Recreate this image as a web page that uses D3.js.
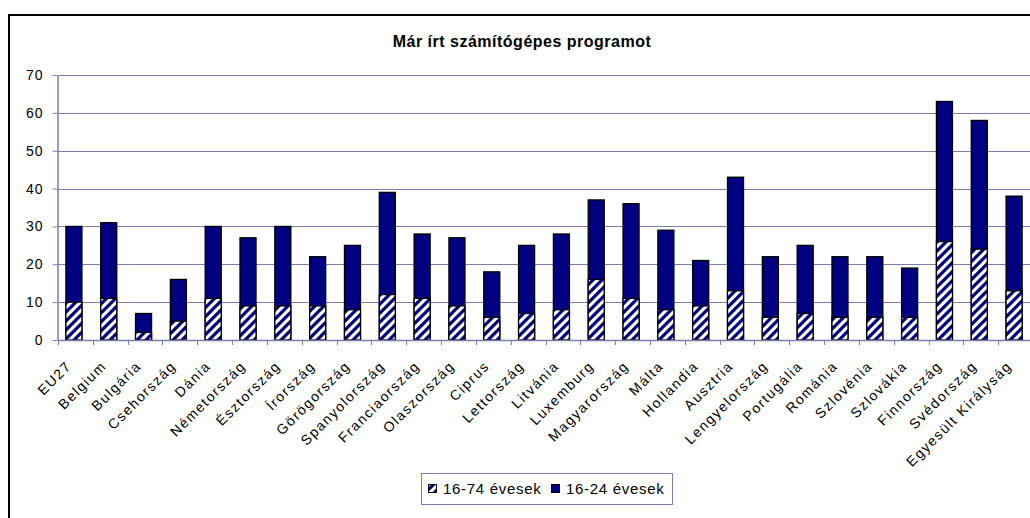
<!DOCTYPE html>
<html>
<head>
<meta charset="utf-8">
<script src="https://cdn.jsdelivr.net/npm/d3@7"></script>
<style>
  html, body { margin: 0; padding: 0; background: #fff; overflow: hidden; }
  text { font-family: Arial, "Liberation Sans", sans-serif; fill: #000; }
</style>
</head>
<body>
<div id="chart"></div>
<script>
const categories = ["EU27", "Belgium", "Bulgária", "Csehország", "Dánia", "Németország", "Észtország",
  "Írország", "Görögország", "Spanyolország", "Franciaország", "Olaszország", "Ciprus", "Lettország",
  "Litvánia", "Luxemburg", "Magyarország", "Málta", "Hollandia", "Ausztria", "Lengyelország",
  "Portugália", "Románia", "Szlovénia", "Szlovákia", "Finnország", "Svédország", "Egyesült Királyság"];
const age16to74 = [10, 11, 2, 5, 11, 9, 9, 9, 8, 12, 11, 9, 6, 7, 8, 16, 11, 8, 9, 13, 6, 7, 6, 6, 6, 26, 24, 13];
const age16to24 = [30, 31, 7, 16, 30, 27, 30, 22, 25, 39, 28, 27, 18, 25, 28, 37, 36, 29, 21, 43, 22, 25, 22, 22, 19, 63, 58, 38];
const yTicks = [0, 10, 20, 30, 40, 50, 60, 70];
const seriesNames = ["16-74 évesek", "16-24 évesek"];
const title = "Már írt számítógépes programot";

const W = 1030, H = 518;
const plotLeft = 58, plotRight = 1033, plotTop = 75, plotBottom = 340;
const navy = "#000080";
const gridColor = "#7c7cae";

const svg = d3.select("#chart").append("svg")
  .attr("width", W)
  .attr("height", H);

// diagonal hatch
const defs = svg.append("defs");
const pat = defs.append("pattern")
  .attr("id", "hatch")
  .attr("patternUnits", "userSpaceOnUse")
  .attr("width", 9)
  .attr("height", 9);
pat.append("rect").attr("width", 9).attr("height", 9).attr("fill", "#fff");
pat.append("path")
  .attr("d", "M-2,2 L2,-2 M0,9 L9,0 M7,11 L11,7")
  .attr("stroke", navy)
  .attr("stroke-width", 3.2);

// outer frame (cut off on right/bottom)
svg.append("rect")
  .attr("x", 9).attr("y", 15)
  .attr("width", 1100).attr("height", 600)
  .attr("fill", "none")
  .attr("stroke", "#000")
  .attr("stroke-width", 2);

svg.append("text")
  .attr("x", 522).attr("y", 47)
  .attr("text-anchor", "middle")
  .style("font-size", "16px")
  .style("font-weight", "bold")
  .style("letter-spacing", "0.5px")
  .text(title);

const x = d3.scaleBand().domain(categories).range([plotLeft, plotRight]).padding(0);
const y = d3.scaleLinear().domain([0, 70]).range([plotBottom, plotTop]);

// gridlines
svg.append("g").selectAll("line")
  .data(yTicks.filter(d => d > 0))
  .enter().append("line")
    .attr("x1", plotLeft).attr("x2", W)
    .attr("y1", d => Math.round(y(d)) + 0.5)
    .attr("y2", d => Math.round(y(d)) + 0.5)
    .attr("stroke", gridColor)
    .attr("stroke-width", 1);

// y axis
const yAxis = svg.append("g")
  .attr("transform", `translate(${plotLeft - 0.5},0)`)
  .call(d3.axisLeft(y).tickValues(yTicks).tickSize(5).tickPadding(9).tickSizeOuter(0));
yAxis.select(".domain").attr("stroke", gridColor).attr("stroke-width", 1.5);
yAxis.selectAll(".tick line").attr("stroke", gridColor);
yAxis.selectAll(".tick text")
  .style("font-size", "14px")
  .style("letter-spacing", "1px")
  .attr("font-family", null);

const barW = x.bandwidth() * 0.46;
const barX = d => x(d) + (x.bandwidth() - barW) / 2 - 1.5;

// 16-24 behind
svg.append("g").selectAll("rect")
  .data(categories)
  .enter().append("rect")
    .attr("x", barX)
    .attr("y", (d, i) => y(age16to24[i]))
    .attr("width", barW)
    .attr("height", (d, i) => y(0) - y(age16to24[i]))
    .attr("fill", navy)
    .attr("stroke", "#000")
    .attr("stroke-width", 1.3);

// 16-74 hatched in front
svg.append("g").selectAll("rect")
  .data(categories)
  .enter().append("rect")
    .attr("x", barX)
    .attr("y", (d, i) => y(age16to74[i]))
    .attr("width", barW)
    .attr("height", (d, i) => y(0) - y(age16to74[i]))
    .attr("fill", "url(#hatch)")
    .attr("stroke", "#000")
    .attr("stroke-width", 1.3);

// x axis line and boundary ticks
svg.append("line")
  .attr("x1", plotLeft).attr("x2", W)
  .attr("y1", plotBottom + 0.5).attr("y2", plotBottom + 0.5)
  .attr("stroke", gridColor).attr("stroke-width", 1.5);
svg.append("g").selectAll("line")
  .data(categories.concat(["__end"]))
  .enter().append("line")
    .attr("x1", (d, i) => Math.round(plotLeft + i * x.step()) + 0.5)
    .attr("x2", (d, i) => Math.round(plotLeft + i * x.step()) + 0.5)
    .attr("y1", plotBottom).attr("y2", plotBottom + 5)
    .attr("stroke", gridColor);

// rotated category labels
svg.append("g").selectAll("text")
  .data(categories)
  .enter().append("text")
    .attr("transform", d => `translate(${x(d) + x.bandwidth() / 2 - 3},367) rotate(-45)`)
    .attr("text-anchor", "end")
    .style("font-size", "14px")
    .style("letter-spacing", "1.5px")
    .text(d => d);

// legend
const lg = svg.append("g");
lg.append("rect")
  .attr("x", 421.5).attr("y", 473.5)
  .attr("width", 251).attr("height", 31)
  .attr("fill", "#fff")
  .attr("stroke", gridColor);
const legendItems = [
  { name: seriesNames[0], fill: "url(#hatch)", sx: 428, tx: 443 },
  { name: seriesNames[1], fill: navy, sx: 551, tx: 566 }
];
legendItems.forEach(it => {
  lg.append("rect")
    .attr("x", it.sx + 0.5).attr("y", 484.5)
    .attr("width", 8).attr("height", 8)
    .attr("fill", it.fill)
    .attr("stroke", "#000");
  lg.append("text")
    .attr("x", it.tx).attr("y", 494)
    .style("font-size", "15px")
    .style("letter-spacing", "0.7px")
    .text(it.name);
});
</script>
</body>
</html>
